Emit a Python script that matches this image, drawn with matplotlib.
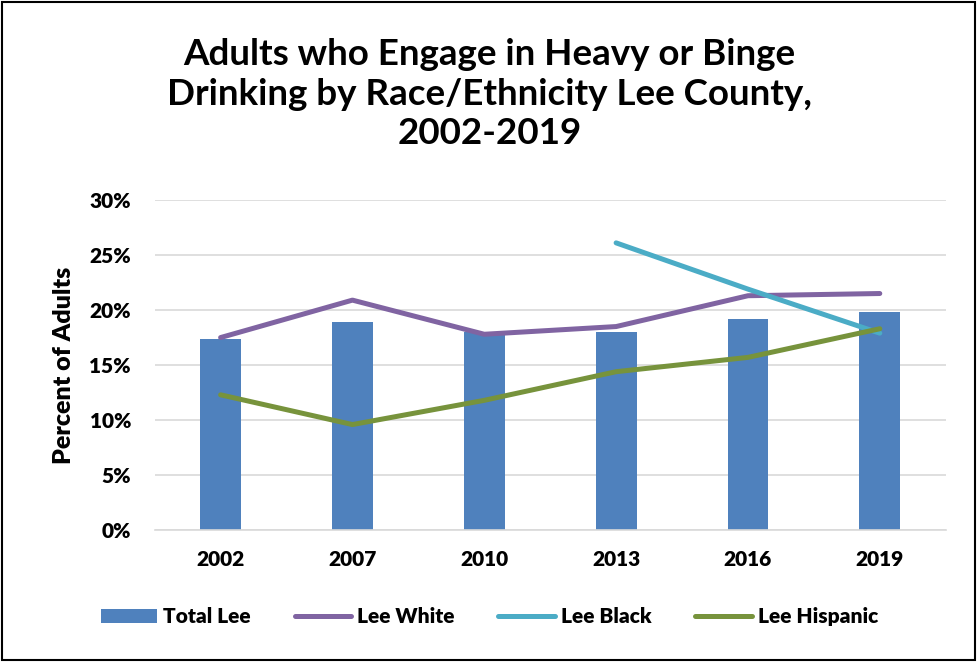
import matplotlib.pyplot as plt
from matplotlib.patches import Rectangle
from matplotlib.ticker import PercentFormatter

plt.rcParams['font.family'] = ['Lato', 'DejaVu Sans']
plt.rcParams['font.weight'] = 'heavy'

years = ['2002', '2007', '2010', '2013', '2016', '2019']
total_lee = [17.4, 18.9, 18.0, 18.0, 19.2, 19.8]
lee_white = [17.5, 20.9, 17.8, 18.5, 21.3, 21.5]
lee_black = [None, None, None, 26.1, 21.9, 17.9]
lee_hispanic = [12.3, 9.6, 11.8, 14.4, 15.7, 18.3]

x = list(range(len(years)))
black_x = [i for i, v in zip(x, lee_black) if v is not None]
black_y = [v for v in lee_black if v is not None]

fig = plt.figure(figsize=(9.79, 6.62), dpi=100)
ax = fig.add_axes([0.158, 0.199, 0.808, 0.499])

b = ax.bar(x, total_lee, width=0.31, color='#4F81BD', label='Total Lee', zorder=2)
l1, = ax.plot(x, lee_white, color='#8064A2', lw=3.6, solid_capstyle='round', label='Lee White', zorder=3)
l2, = ax.plot(black_x, black_y, color='#4BACC6', lw=3.6, solid_capstyle='round', label='Lee Black', zorder=3)
l3, = ax.plot(x, lee_hispanic, color='#77933C', lw=3.6, solid_capstyle='round', label='Lee Hispanic', zorder=4)

ax.set_xlim(-0.5, 5.5)
ax.set_ylim(0, 30)
ax.set_yticks(range(0, 31, 5))
ax.yaxis.set_major_formatter(PercentFormatter(decimals=0))
ax.set_xticks(x)
ax.set_xticklabels(years)
ax.grid(axis='y', color='#D9D9D9', lw=1.2, zorder=0)
ax.set_axisbelow(True)
for s in ['top', 'right', 'left']:
    ax.spines[s].set_visible(False)
ax.spines['bottom'].set_color('#D9D9D9')
ax.spines['bottom'].set_linewidth(1.2)
ax.tick_params(length=0, labelsize=15)
ax.tick_params(axis='x', pad=14)
ax.tick_params(axis='y', pad=17)
ax.set_ylabel('Percent of Adults', fontsize=18, fontweight='heavy', labelpad=10)

fig.text(0.5, 0.858, 'Adults who Engage in Heavy or Binge\nDrinking by Race/Ethnicity Lee County,\n2002-2019',
         ha='center', va='center', fontsize=26.5, fontweight='bold', linespacing=1.24)

ax.legend([b, l1, l2, l3], ['Total Lee', 'Lee White', 'Lee Black', 'Lee Hispanic'],
          loc='center', bbox_to_anchor=(0.5, 0.068), bbox_transform=fig.transFigure,
          ncol=4, frameon=False, fontsize=15, handlelength=2.7, handletextpad=0.3,
          columnspacing=2.1)

fig.patches.append(Rectangle((0.002, 0.003), 0.994, 0.994, transform=fig.transFigure,
                             fill=False, edgecolor='black', lw=1.5))

fig.savefig('out.png', dpi=100)
